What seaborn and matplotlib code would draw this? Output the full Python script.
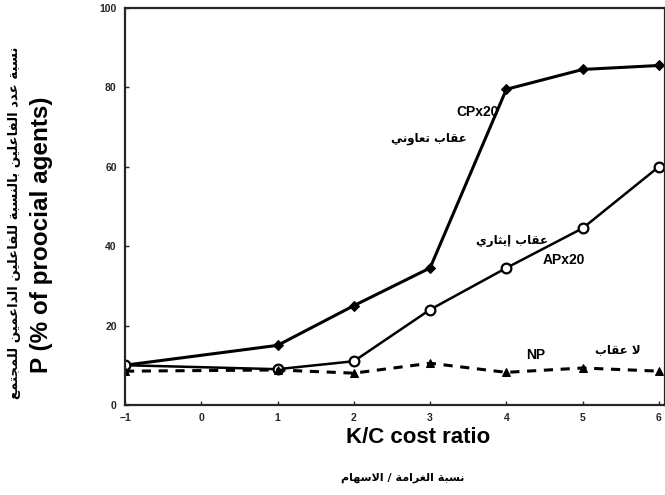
import matplotlib
matplotlib.use('Agg')
import matplotlib.pyplot as plt
import pandas as pd
import seaborn as sns

# K/C cost ratio values and % of prosocial agents per condition
ratio = [-1, 1, 2, 3, 4, 5, 6]
cp_x20 = [10, 15, 25, 34.5, 79.5, 84.5, 85.5]
ap_x20 = [10, 9, 11, 24, 34.5, 44.5, 60]
np_vals = [8.5, 8.8, 8, 10.5, 8.2, 9.3, 8.5]

y_ticks = [0, 20, 40, 60, 80, 100]
x_ticks = [-1, 0, 1, 2, 3, 4, 5, 6]

# matplotlib has no Arabic shaping, so map letters to presentation forms
FORMS = {
    'ا': ('\uFE8D', '\uFE8E', None, None), 'إ': ('\uFE87', '\uFE88', None, None),
    'ب': ('\uFE8F', '\uFE90', '\uFE91', '\uFE92'), 'ة': ('\uFE93', '\uFE94', None, None),
    'ت': ('\uFE95', '\uFE96', '\uFE97', '\uFE98'), 'ث': ('\uFE99', '\uFE9A', '\uFE9B', '\uFE9C'),
    'ج': ('\uFE9D', '\uFE9E', '\uFE9F', '\uFEA0'), 'د': ('\uFEA9', '\uFEAA', None, None),
    'ر': ('\uFEAD', '\uFEAE', None, None), 'س': ('\uFEB1', '\uFEB2', '\uFEB3', '\uFEB4'),
    'ع': ('\uFEC9', '\uFECA', '\uFECB', '\uFECC'), 'غ': ('\uFECD', '\uFECE', '\uFECF', '\uFED0'),
    'ف': ('\uFED1', '\uFED2', '\uFED3', '\uFED4'), 'ق': ('\uFED5', '\uFED6', '\uFED7', '\uFED8'),
    'ل': ('\uFEDD', '\uFEDE', '\uFEDF', '\uFEE0'), 'م': ('\uFEE1', '\uFEE2', '\uFEE3', '\uFEE4'),
    'ن': ('\uFEE5', '\uFEE6', '\uFEE7', '\uFEE8'), 'ه': ('\uFEE9', '\uFEEA', '\uFEEB', '\uFEEC'),
    'و': ('\uFEED', '\uFEEE', None, None), 'ي': ('\uFEF1', '\uFEF2', '\uFEF3', '\uFEF4'),
}


def ar(text):
    out = []
    i = 0
    prev_joins = False
    while i < len(text):
        c = text[i]
        if c not in FORMS:
            out.append(c)
            prev_joins = False
            i += 1
            continue
        if c == 'ل' and i + 1 < len(text) and text[i + 1] == 'ا':
            out.append('\uFEFC' if prev_joins else '\uFEFB')
            prev_joins = False
            i += 2
            continue
        iso, fin, ini, med = FORMS[c]
        nxt = text[i + 1] if i + 1 < len(text) else ''
        joins_next = ini is not None and nxt in FORMS
        if prev_joins and joins_next:
            out.append(med)
        elif prev_joins:
            out.append(fin)
        elif joins_next:
            out.append(ini)
        else:
            out.append(iso)
        prev_joins = joins_next
        i += 1
    return ''.join(reversed(out))


df = pd.DataFrame({'ratio': ratio, 'CP': cp_x20, 'AP': ap_x20, 'NP': np_vals})

sns.set_style('ticks')
plt.rcParams['font.family'] = ['Liberation Sans', 'DejaVu Sans']

fig = plt.figure(figsize=(6.65, 4.95), dpi=100)
ax = fig.add_axes([0.188, 0.182, 0.812, 0.802])

sns.lineplot(data=df, x='ratio', y='CP', ax=ax, color='black', linewidth=2.2,
             marker='D', markersize=5, markeredgecolor='black')
sns.lineplot(data=df, x='ratio', y='AP', ax=ax, color='black', linewidth=1.8,
             marker='o', markersize=7, markerfacecolor='white',
             markeredgecolor='black', markeredgewidth=1.6)
sns.lineplot(data=df, x='ratio', y='NP', ax=ax, color='black', linewidth=2.2,
             linestyle=(0, (3, 2.5)), marker='^', markersize=6,
             markeredgecolor='black')

ax.set_xlim(-1, 6.08)
ax.set_ylim(0, 100)
ax.set_xticks(x_ticks)
ax.set_yticks(y_ticks)
ax.tick_params(direction='in', length=3, width=1, labelsize=7.5, pad=6)
for lab in ax.get_xticklabels() + ax.get_yticklabels():
    lab.set_fontweight('bold')
for s in ax.spines.values():
    s.set_linewidth(1.6)
ax.set_xlabel('')
ax.set_ylabel('')

bold = dict(fontweight='bold', color='black')
arb = dict(fontweight='bold', color='black', family=['DejaVu Sans'])
ax.text(3.9, 73.8, 'CPx20', fontsize=10, ha='right', va='center', **bold)
ax.text(2.98, 67, ar('عقاب تعاوني'), fontsize=8.5, ha='center', va='center', **arb)
ax.text(4.07, 41.5, ar('عقاب إيثاري'), fontsize=8.5, ha='center', va='center', **arb)
ax.text(4.75, 36.5, 'APx20', fontsize=10, ha='center', va='center', **bold)
ax.text(4.38, 12.6, 'NP', fontsize=10, ha='center', va='center', **bold)
ax.text(5.46, 14, ar('لا عقاب'), fontsize=8.5, ha='center', va='center', **arb)

fig.text(0.629, 0.117, 'K/C cost ratio', fontsize=16, ha='center', va='center', **bold)
fig.text(0.606, 0.034, ar('نسبة الغرامة / الاسهام'), fontsize=8, ha='center', va='center', **arb)
fig.text(0.062, 0.525, 'P (% of proocial agents)', fontsize=17.5, rotation=90,
         ha='center', va='center', **bold)
fig.text(0.022, 0.55, ar('نسبة عدد الفاعلين بالنسبة للفاعلين الداعمين للمجتمع'),
         fontsize=9.5, rotation=90, ha='center', va='center', **arb)

fig.savefig('out.png', dpi=100)
